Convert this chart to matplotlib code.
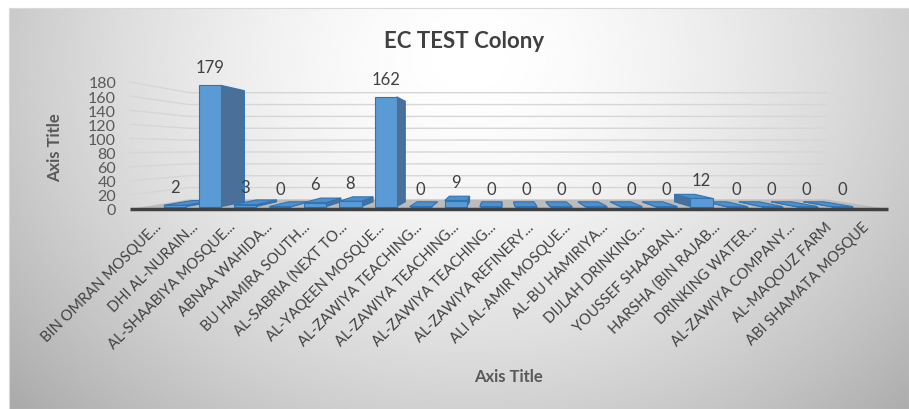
import numpy as np
import matplotlib
matplotlib.use('Agg')
import matplotlib.pyplot as plt
from matplotlib.patches import Polygon

sites = ['BIN OMRAN MOSQUE...', 'DHI AL-NURAIN...', 'AL-SHAABIYA MOSQUE...', 'ABNAA WAHIDA...',
         'BU HAMIRA SOUTH...', 'AL-SABRIA (NEXT TO...', 'AL-YAQEEN MOSQUE...', 'AL-ZAWIYA TEACHING...',
         'AL-ZAWIYA TEACHING...', 'AL-ZAWIYA TEACHING...', 'AL-ZAWIYA REFINERY...', 'ALI AL-AMIR MOSQUE...',
         'AL-BU HAMIRIYA...', 'DIJLAH DRINKING...', 'YOUSSEF SHAABAN...', 'HARSHA (BIN RAJAB...',
         'DRINKING WATER...', 'AL-ZAWIYA COMPANY...', 'AL-MAQOUZ FARM', 'ABI SHAMATA MOSQUE']
counts = [2, 179, 3, 0, 6, 8, 162, 0, 9, 0, 0, 0, 0, 0, 0, 12, 0, 0, 0, 0]
yticks = list(range(0, 181, 20))

plt.rcParams['font.family'] = ['Lato', 'DejaVu Sans']
W, H = 909, 410
fig = plt.figure(figsize=(W / 100, H / 100), dpi=100)

# gradient chart area
bg = fig.add_axes([9 / W, 0, 1 - 9 / W, 1 - 9 / H])
xx, yy = np.meshgrid(np.linspace(9, 909, 450), np.linspace(9, 410, 200))
r = np.sqrt(((xx - 470) / 520) ** 2 + ((yy - 60) / 430) ** 2)
shade = 1 - 0.25 * np.clip(r, 0, 1.2) ** 1.6
bg.imshow(shade, cmap='gray', vmin=0, vmax=1, extent=[9, 909, 410, 9], aspect='auto', interpolation='bilinear')
bg.set_xlim(9, 909)
bg.set_ylim(410, 9)
bg.set_xticks([])
bg.set_yticks([])
for s in bg.spines.values():
    s.set_color('#d9d9d9')

# plot axes: category i at px 175 + 35.1*i, value 0..180 -> px 210..83
c0, step = 175, 35.1
xlim = ((130 - c0) / step, (888 - c0) / step)
ax = fig.add_axes([130 / W, 200 / H, 758 / W, 127 / H])
ax.set_xlim(*xlim)
ax.set_ylim(0, 180)
ax.patch.set_alpha(0)
for s in ax.spines.values():
    s.set_visible(False)

vx, vy = (500 - c0) / step, 60 / (127 / 180)


def proj(x, y, z):
    return x + z * (vx - x), y + z * (vy - y)


zw, z0, z1, zl = 0.16, 0.04, 0.12, -0.062

# floor and walls
floor = [proj(xlim[0], 0, 0), proj(xlim[1], 0, 0), proj(xlim[1], 0, zw), proj(xlim[0], 0, zw)]
ax.add_patch(Polygon(floor, closed=True, fc='#bcbcbc', ec='none', clip_on=False, zorder=1))
for t in yticks[1:]:
    pts = [proj(xlim[0], t, 0), proj(xlim[0], t, zw), proj(xlim[1], t, zw)]
    ax.plot([p[0] for p in pts], [p[1] for p in pts], color='#d6d6d6', lw=1, clip_on=False, zorder=0.5)

# 3D-looking bars
for i, v in enumerate(counts):
    xc = (i - z0 * vx) / (1 - z0)
    hw = 0.315 / (1 - z0)
    xl, xr = xc - hw, xc + hw
    xs = xr if i < vx else xl
    side = [proj(xs, 0, z0), proj(xs, 0, z1), proj(xs, v, z1), proj(xs, v, z0)]
    ax.add_patch(Polygon(side, closed=True, fc='#4a6f98', ec='#2e75b6', lw=0.8, clip_on=False, zorder=2))
    if v < vy:
        top = [proj(xl, v, z0), proj(xr, v, z0), proj(xr, v, z1), proj(xl, v, z1)]
        ax.add_patch(Polygon(top, closed=True, fc='#4f8fcc', ec='#2e75b6', lw=0.8, clip_on=False, zorder=2))
    front = [proj(xl, 0, z0), proj(xr, 0, z0), proj(xr, v, z0), proj(xl, v, z0)]
    ax.add_patch(Polygon(front, closed=True, fc='#5b9bd5', ec='#2e75b6', lw=0.8, clip_on=False, zorder=3))
    ax.annotate(str(v), xy=(i, proj(i, v, z0)[1]), xytext=(0, 13), textcoords='offset points',
                ha='center', va='center', fontsize=12, color='#404040', zorder=4)
    ax.annotate(sites[i], xy=(proj(i, 0, zl)[0], 0), xytext=(3, -11), textcoords='offset points',
                rotation=45, rotation_mode='anchor', ha='right', va='center', fontsize=10.5,
                color='#404040')

ax.plot(xlim, [0, 0], color='#404040', lw=2.5, clip_on=False, solid_capstyle='butt', zorder=5)

ax.set_xticks([])
ax.set_yticks(yticks)
ax.tick_params(axis='y', length=0, pad=10, labelsize=11.5, labelcolor='#595959')

fig.text(464 / W, 1 - 41 / H, 'EC TEST Colony', ha='center', va='center', fontsize=16,
         weight='bold', color='#404040')
fig.text(55 / W, 1 - 148 / H, 'Axis Title', rotation=90, ha='center', va='center',
         fontsize=12, weight='bold', color='#595959')
fig.text(508 / W, 1 - 377 / H, 'Axis Title', ha='center', va='center',
         fontsize=12, weight='bold', color='#595959')

fig.savefig('out.png', dpi=100)
